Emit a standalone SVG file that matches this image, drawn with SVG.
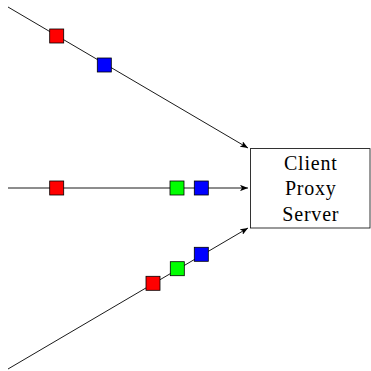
<svg xmlns="http://www.w3.org/2000/svg" width="371" height="371" viewBox="0 0 371 371">
<style>
.ln{stroke:#000;stroke-width:0.9;fill:none}
.sq{stroke:#000;stroke-width:0.8}
.t{font-family:"Liberation Serif",serif;font-size:20px;letter-spacing:0.8px;text-anchor:middle;fill:#000}
</style>
<defs>
<marker id="ah" viewBox="0 0 10 8" refX="10" refY="4" markerWidth="8" markerHeight="6.4" markerUnits="userSpaceOnUse" orient="auto">
<path d="M0,0 L10,4 L0,8 L2.5,4 Z" fill="#000"/>
</marker>
</defs>
<g id="connectors">
<line class="ln" x1="8" y1="7" x2="248" y2="148" marker-end="url(#ah)"/>
<line class="ln" x1="8" y1="188" x2="248" y2="188" marker-end="url(#ah)"/>
<line class="ln" x1="8" y1="369" x2="248" y2="228" marker-end="url(#ah)"/>
</g>
<g id="packets-top">
<rect class="sq" x="49.7" y="29" width="14" height="14" fill="#f00"/>
<rect class="sq" x="97.3" y="58" width="14" height="14" fill="#00f"/>
</g>
<g id="packets-mid">
<rect class="sq" x="49.7" y="181" width="14" height="14" fill="#f00"/>
<rect class="sq" x="170" y="181" width="14" height="14" fill="#0f0"/>
<rect class="sq" x="194.3" y="181" width="14" height="14" fill="#00f"/>
</g>
<g id="packets-bot">
<rect class="sq" x="146" y="276.3" width="14" height="14" fill="#f00"/>
<rect class="sq" x="170.3" y="261.7" width="14" height="14" fill="#0f0"/>
<rect class="sq" x="194.3" y="247.3" width="14" height="14" fill="#00f"/>
</g>
<g id="server">
<rect x="250.4" y="148.6" width="119.6" height="79.4" fill="#fff" stroke="#000" stroke-width="0.8"/>
<text class="t" x="310.8" y="170">Client</text>
<text class="t" x="310.8" y="195">Proxy</text>
<text class="t" x="310.8" y="221">Server</text>
</g>
</svg>
